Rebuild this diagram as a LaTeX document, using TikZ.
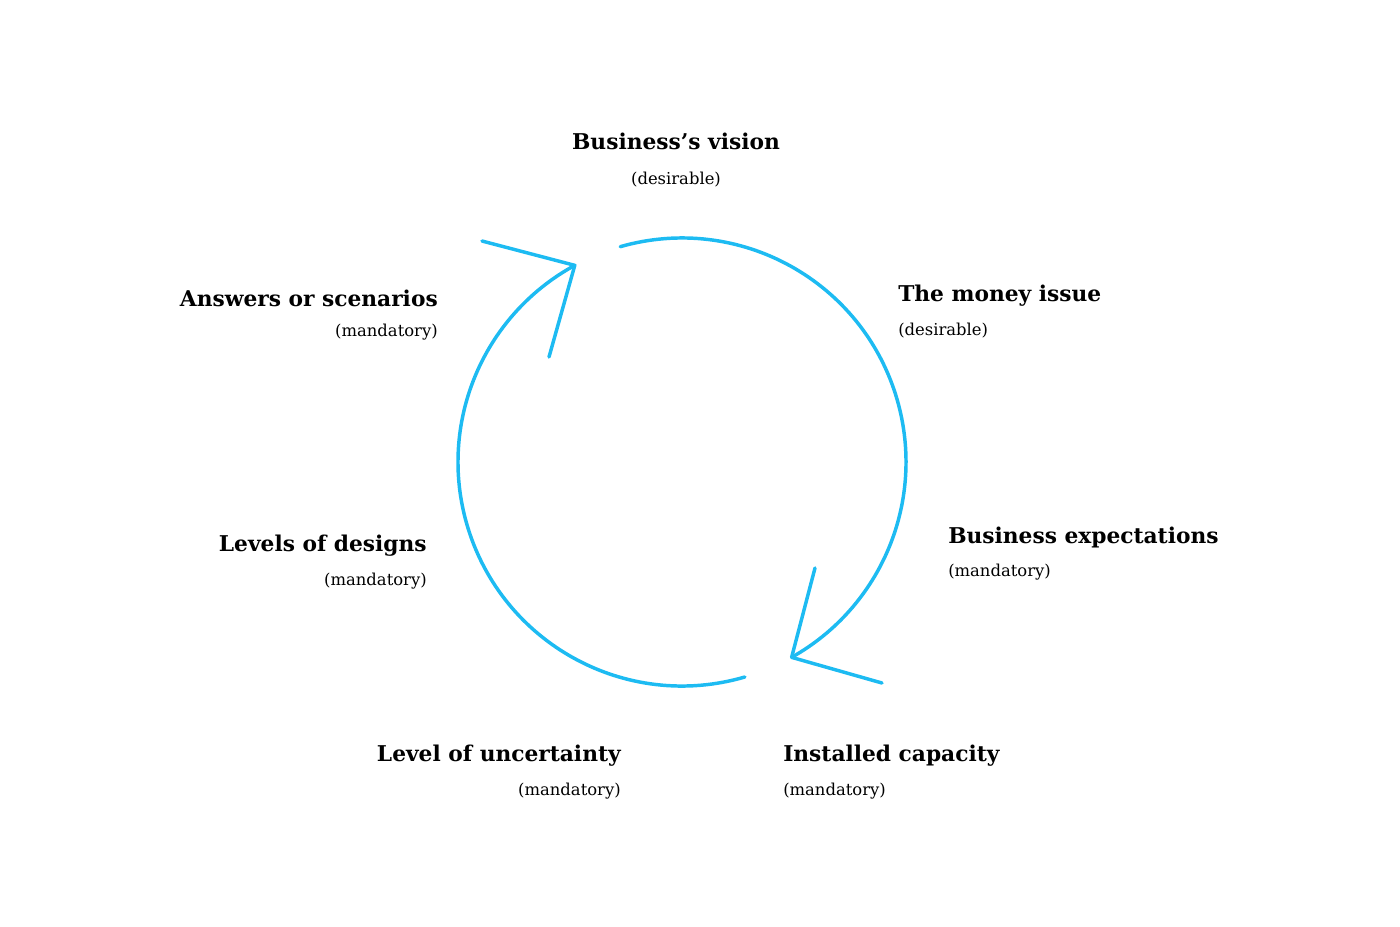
\documentclass[tikz,border=0pt]{standalone}
\usepackage{fontspec}
\setmainfont{DejaVu Serif}
\definecolor{cyc}{HTML}{1DBBF2}
\begin{document}
\begin{tikzpicture}[x=0.75pt,y=-0.75pt,
  ttl/.style={font=\bfseries\fontsize{16.3}{19}\selectfont, inner sep=0},
  sub/.style={font=\fontsize{12.3}{14}\selectfont, inner sep=0},
  arc/.style={cyc, line width=2.6pt, line cap=round, line join=round}]
\useasboundingbox (0,0) rectangle (1400,926);
\coordinate (c) at (682,462);
\draw[arc] (c) ++(-106:224) arc[start angle=-106, end angle=60.7, radius=224] coordinate (t1);
\coordinate (a1) at (815,568); \coordinate (b1) at (882,683);
\draw[arc] (a1) -- (t1) -- (b1);
\draw[arc] (c) ++(73.7:224) arc[start angle=73.7, end angle=241.4, radius=224] coordinate (t2);
\coordinate (a2) at (482,241); \coordinate (b2) at (549,357);
\draw[arc] (a2) -- (t2) -- (b2);
\node[ttl] (n1) at (676,141) {Business’s vision};
\node[sub] (n1s) at (676,180) {(desirable)};
\node[ttl,anchor=west] (n2) at (898,296) {The money issue};
\node[sub,anchor=west] (n2s) at (898,331) {(desirable)};
\node[ttl,anchor=west] (n3) at (948,537) {Business expectations};
\node[sub,anchor=west] (n3s) at (948,572) {(mandatory)};
\node[ttl,anchor=west] (n4) at (783,756) {Installed capacity};
\node[sub,anchor=west] (n4s) at (783,791) {(mandatory)};
\node[ttl,anchor=east] (n5) at (621,756) {Level of uncertainty};
\node[sub,anchor=east] (n5s) at (621,791) {(mandatory)};
\node[ttl,anchor=east] (n6) at (427,546) {Levels of designs};
\node[sub,anchor=east] (n6s) at (427,581) {(mandatory)};
\node[ttl,anchor=east] (n7) at (438,298) {Answers or scenarios};
\node[sub,anchor=east] (n7s) at (438,332) {(mandatory)};
\end{tikzpicture}
\end{document}
